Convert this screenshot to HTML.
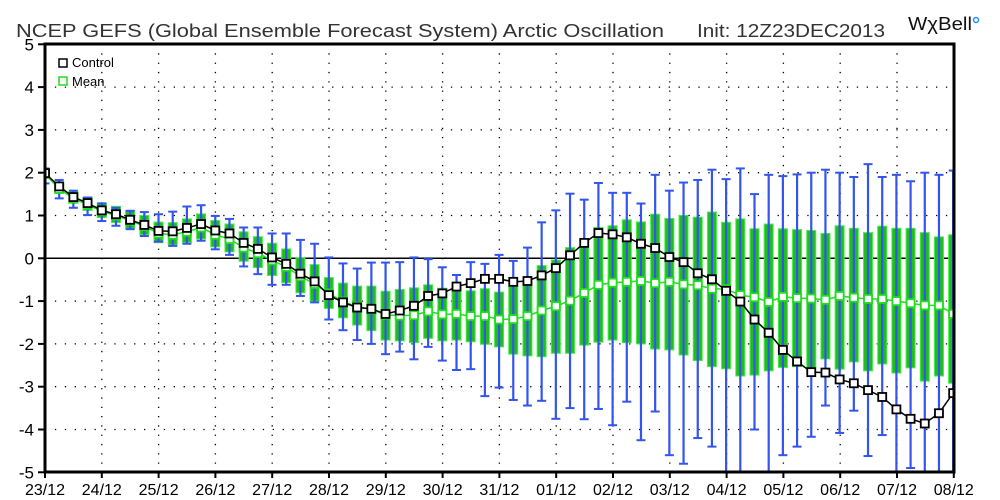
<!DOCTYPE html>
<html><head><meta charset="utf-8"><style>
html,body{margin:0;padding:0;background:#fff;}
svg{display:block;font-family:"Liberation Sans",sans-serif;}
</style></head><body>
<svg id="s" width="1000" height="500" xmlns="http://www.w3.org/2000/svg"></svg>
<script>
const X0=45,X1=954,Y0=258.3,SY=42.8,DX=14.19;
const y=v=>Y0-v*SY, x=i=>X0+i*DX;
const ctl=[1.99,1.68,1.43,1.29,1.12,1.03,0.90,0.78,0.64,0.63,0.71,0.80,0.65,0.58,0.36,0.22,0.02,-0.13,-0.36,-0.54,
-0.86,-1.03,-1.15,-1.18,-1.30,-1.22,-1.11,-0.88,-0.82,-0.66,-0.58,-0.48,-0.48,-0.55,-0.53,-0.40,-0.23,0.07,0.36,0.59,
0.56,0.49,0.34,0.24,0.03,-0.09,-0.35,-0.49,-0.76,-1.01,-1.43,-1.74,-2.14,-2.41,-2.66,-2.67,-2.83,-2.92,-3.08,-3.24,-3.53,-3.75,-3.86,-3.62,-3.15];
const mn=[1.97,1.62,1.40,1.25,1.10,1.00,0.88,0.75,0.58,0.55,0.62,0.72,0.55,0.45,0.25,0.12,-0.05,-0.20,-0.42,-0.60,
-0.82,-1.01,-1.13,-1.19,-1.32,-1.34,-1.33,-1.24,-1.31,-1.30,-1.35,-1.35,-1.43,-1.42,-1.35,-1.22,-1.12,-0.99,-0.81,-0.62,
-0.57,-0.55,-0.53,-0.58,-0.55,-0.61,-0.63,-0.71,-0.72,-0.86,-0.91,-1.02,-0.90,-0.93,-0.94,-0.97,-0.88,-0.92,-0.95,-0.95,-1.0,-1.05,-1.1,-1.1,-1.3];
const whT=[2.1,1.83,1.58,1.42,1.28,1.18,1.11,1.08,1.03,1.09,1.21,1.24,0.99,0.92,0.72,0.72,0.58,0.58,0.43,0.34,
0.02,-0.12,-0.24,-0.1,-0.1,-0.09,0.02,-0.02,-0.21,-0.39,-0.09,-0.13,0.08,-0.06,0.25,0.84,1.12,1.51,1.37,1.76,
1.53,1.53,1.28,1.95,1.58,1.77,1.83,2.07,1.85,2.1,1.5,1.95,1.92,1.96,2.0,2.07,2.0,1.9,2.2,1.9,1.95,1.8,2.0,1.95,2.05];
const whB=[1.75,1.4,1.18,1.01,0.87,0.76,0.68,0.52,0.39,0.29,0.34,0.41,0.21,0.08,-0.19,-0.37,-0.62,-0.62,-0.88,-1.03,
-1.43,-1.68,-1.91,-2.0,-2.24,-2.18,-2.36,-2.07,-2.39,-2.61,-2.59,-3.22,-3.02,-3.31,-3.44,-3.33,-3.75,-3.5,-3.76,-3.52,
-3.9,-3.35,-4.25,-3.58,-4.6,-4.8,-4.2,-4.4,-5.5,-5.5,-4.0,-5.5,-4.6,-4.4,-4.17,-3.44,-4.08,-3.56,-4.62,-4.13,-5.5,-4.9,-5.5,-5.5,-5.5];
const bT=[],bB=[];
for(let i=0;i<20;i++){const h=0.08+0.017*i;bT.push(mn[i]+h+0.05);bB.push(mn[i]-h);}
bT.push(-0.45,-0.58,-0.65,-0.65,-0.77,-0.73,-0.69,-0.62,-0.70,-0.63,-0.76,-0.71,-0.79,-0.66,-0.55,-0.17,-0.04,0.25,0.25,0.72,
0.76,0.9,0.85,1.03,0.93,1.0,0.96,1.08,0.84,0.92,0.69,0.8,0.69,0.67,0.65,0.58,0.76,0.7,0.6,0.75,0.7,0.7,0.6,0.5,0.55);
bB.push(-1.17,-1.39,-1.56,-1.69,-1.91,-1.93,-1.97,-1.87,-1.93,-1.91,-1.95,-2.01,-2.07,-2.24,-2.28,-2.30,-2.22,-2.22,-2.03,-1.96,
-1.91,-1.97,-2.0,-2.12,-2.14,-2.26,-2.39,-2.53,-2.58,-2.75,-2.73,-2.63,-2.55,-2.53,-2.56,-2.35,-2.59,-2.42,-2.63,-2.47,-2.68,-2.56,-2.87,-2.75,-2.92);
let s='<defs><clipPath id="c"><rect x="45" y="44" width="909" height="428"/></clipPath></defs>';
s+='<text x="16" y="37" font-size="18" fill="#333" textLength="648" lengthAdjust="spacingAndGlyphs">NCEP GEFS (Global Ensemble Forecast System) Arctic Oscillation</text>';
s+='<text x="697" y="37" font-size="18" fill="#333" textLength="188" lengthAdjust="spacingAndGlyphs">Init: 12Z23DEC2013</text>';
s+='<text x="908" y="30" font-size="18" fill="#111" textLength="64" lengthAdjust="spacingAndGlyphs">WχBell</text><circle cx="976" cy="20" r="2.5" fill="none" stroke="#1e90ff" stroke-width="1.5"/>';
for(let v=-4;v<=4;v++){ if(v==0)continue; s+=`<line x1="45" x2="954" y1="${y(v)}" y2="${y(v)}" stroke="#000" stroke-width="1.3" stroke-dasharray="1.3,8.6"/>`;}
for(let d=1;d<16;d++){const xx=X0+d*56.8;s+=`<line x1="${xx}" x2="${xx}" y1="44" y2="472" stroke="#000" stroke-width="1.3" stroke-dasharray="1.3,8"/>`;}
s+=`<line x1="45" x2="954" y1="${Y0}" y2="${Y0}" stroke="#000" stroke-width="1.5"/>`;
s+='<g clip-path="url(#c)">';
for(let i=0;i<65;i++){const xx=x(i);
 s+=`<rect x="${xx-4.5}" y="${y(bT[i])}" width="9" height="${y(bB[i])-y(bT[i])}" fill="#22bb22" stroke="#44ee44" stroke-width="1"/>`;
 s+=`<line x1="${xx}" x2="${xx}" y1="${y(whT[i])}" y2="${y(whB[i])}" stroke="#3355ee" stroke-width="2.2"/>`;
 s+=`<line x1="${xx-4.5}" x2="${xx+4.5}" y1="${y(whT[i])}" y2="${y(whT[i])}" stroke="#3355ee" stroke-width="2"/>`;
 s+=`<line x1="${xx-4.5}" x2="${xx+4.5}" y1="${y(whB[i])}" y2="${y(whB[i])}" stroke="#3355ee" stroke-width="2"/>`;
}
s+=`<polyline fill="none" stroke="#22dd22" stroke-width="1.5" points="${mn.map((v,i)=>x(i)+','+y(v)).join(' ')}"/>`;
for(let i=0;i<65;i++)s+=`<rect x="${x(i)-4}" y="${y(mn[i])-4}" width="8" height="8" fill="#fff" stroke="#22dd22" stroke-width="1.8"/>`;
s+=`<polyline fill="none" stroke="#000" stroke-width="1.5" points="${ctl.map((v,i)=>x(i)+','+y(v)).join(' ')}"/>`;
for(let i=0;i<65;i++)s+=`<rect x="${x(i)-4}" y="${y(ctl[i])-4}" width="8" height="8" fill="#fff" stroke="#000" stroke-width="1.8"/>`;
s+='</g>';
s+='<rect x="45" y="44" width="909" height="428" fill="none" stroke="#000" stroke-width="3"/>';
for(let v=-5;v<=5;v++){s+=`<line x1="38" x2="45" y1="${y(v)}" y2="${y(v)}" stroke="#000" stroke-width="2"/><text x="34" y="${y(v)+6}" font-size="17" text-anchor="end">${v}</text>`;}
const lab=['23/12','24/12','25/12','26/12','27/12','28/12','29/12','30/12','31/12','01/12','02/12','03/12','04/12','05/12','06/12','07/12','08/12'];
lab.forEach((l,d)=>{const xx=X0+d*56.8;s+=`<line x1="${xx}" x2="${xx}" y1="472" y2="478" stroke="#000" stroke-width="2"/><text x="${xx}" y="495" font-size="16" text-anchor="middle">${l}</text>`;});
s+='<rect x="59" y="59" width="8" height="8" fill="#fff" stroke="#000" stroke-width="1.5"/><text x="72" y="67" font-size="13">Control</text>';
s+='<rect x="59" y="77" width="8" height="8" fill="#fff" stroke="#22dd22" stroke-width="1.5"/><text x="72" y="86" font-size="13">Mean</text>';
document.getElementById('s').innerHTML=s;
</script>
</body></html>
